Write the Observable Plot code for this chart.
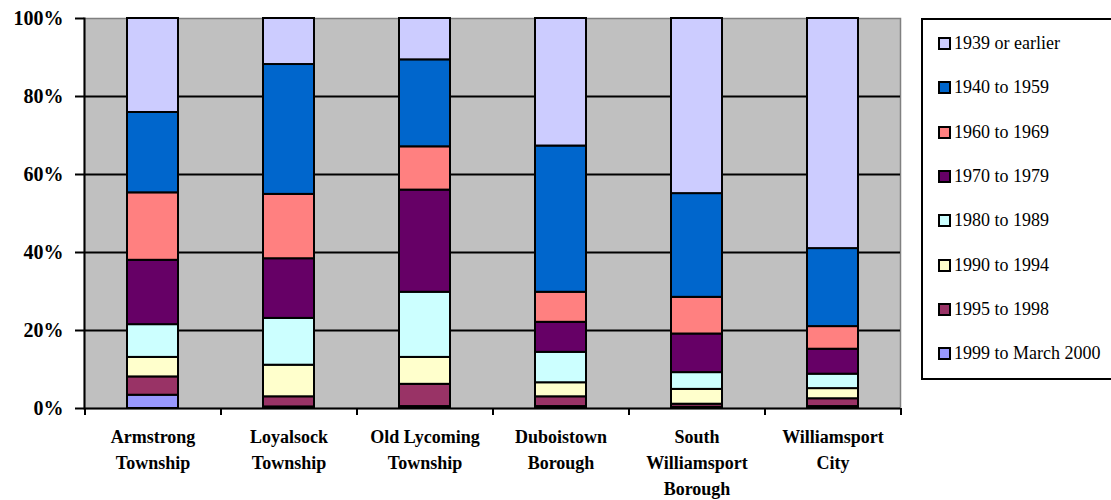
<!DOCTYPE html>
<html>
<head>
<meta charset="utf-8">
<script src="https://cdn.jsdelivr.net/npm/d3@7"></script>
<script src="https://cdn.jsdelivr.net/npm/@observablehq/plot@0.6"></script>
<style>
  html, body { margin: 0; padding: 0; background: #fff; overflow: hidden; }
  #wrap { position: relative; width: 1111px; height: 500px; }
  #legend { position: absolute; left: 921px; top: 18px; width: 200px; height: 362px;
            border: 2px solid #000; box-sizing: border-box; background: #fff;
            font-family: "Liberation Serif", "Times New Roman", serif; font-size: 18px; color: #000; }
  .item { position: absolute; left: 15px; height: 20px; display: flex; align-items: center; white-space: nowrap; }
  .sw { width: 9px; height: 9px; border: 2px solid #000; margin-right: 3px; }
</style>
</head>
<body>
<div id="wrap"><div id="chart"></div><div id="legend"></div></div>
<script>
// Categories (x axis)
const categories = ["Armstrong\nTownship", "Loyalsock\nTownship", "Old Lycoming\nTownship", "Duboistown\nBorough", "South\nWilliamsport\nBorough", "Williamsport\nCity"];
// Series (legend order, top of stack first)
const series = ["1939 or earlier", "1940 to 1959", "1960 to 1969", "1970 to 1979", "1980 to 1989", "1990 to 1994", "1995 to 1998", "1999 to March 2000"];
const colors = ["#CCCCFF", "#0066CC", "#FF8080", "#660066", "#CCFFFF", "#FFFFCC", "#993366", "#9999FF"];
// Percent of housing units by year built, per category
const s1939 = [24.1, 11.8, 10.6, 32.7, 44.9, 59.0];
const s1940 = [20.6, 33.3, 22.3, 37.5, 26.6, 20.0];
const s1960 = [17.3, 16.5, 11.1, 7.7, 9.4, 5.8];
const s1970 = [16.5, 15.3, 26.2, 7.7, 9.9, 6.4];
const s1980 = [8.4, 12.0, 16.7, 7.8, 4.3, 3.7];
const s1990 = [5.0, 8.1, 6.9, 3.6, 3.8, 2.6];
const s1995 = [4.7, 2.6, 5.7, 2.5, 0.8, 2.0];
const s1999 = [3.4, 0.4, 0.5, 0.5, 0.3, 0.5];
const yTicks = [0, 20, 40, 60, 80, 100];
const gridTicks = [20, 40, 60, 80];

const seriesValues = [s1939, s1940, s1960, s1970, s1980, s1990, s1995, s1999];
// stack from bottom (1999) to top (1939)
const data = [];
for (let s = series.length - 1; s >= 0; s--) {
  categories.forEach((c, i) => data.push({cat: c, series: series[s], value: seriesValues[s][i]}));
}

const W = 1111, H = 500, ML = 84, MR = 211, MT = 18, MB = 92;
const step = (W - ML - MR) / categories.length;
const font = '"Liberation Serif", "Times New Roman", serif';

const chart = Plot.plot({
  width: W, height: H,
  marginLeft: ML, marginRight: MR, marginTop: MT, marginBottom: MB,
  style: {fontFamily: font, background: "transparent"},
  x: {domain: categories, paddingInner: 0.625, paddingOuter: 0.3125, axis: null},
  y: {domain: [0, 100], axis: null},
  color: {domain: series, range: colors},
  marks: [
    Plot.frame({fill: "#C0C0C0", stroke: "#808080", strokeWidth: 1.5}),
    Plot.ruleY(gridTicks, {stroke: "#000", strokeWidth: 2}),
    Plot.barY(data, {x: "cat", y: "value", fill: "series", stroke: "#000", strokeWidth: 2}),
    Plot.ruleY([0], {stroke: "#000", strokeWidth: 2}),
    Plot.frame({anchor: "left", stroke: "#000", strokeWidth: 2}),
    Plot.axisY({ticks: yTicks, tickFormat: d => d + "%", tickSize: 9, tickPadding: 12,
      fontSize: 20, fontWeight: "bold", stroke: "#000", strokeWidth: 2, color: "#000", label: null}),
    Plot.axisX({tickSize: 0, tickPadding: 16, fontSize: 18, fontWeight: "bold", lineHeight: 1.45, label: null, color: "#000"}),
    Plot.ruleX(categories, {x: d => d, y: 0, dx: step / 2, insetTop: 0, insetBottom: -7, stroke: "#000", strokeWidth: 2}),
    Plot.ruleX([categories[0]], {x: d => d, y: 0, dx: -step / 2, insetBottom: -7, stroke: "#000", strokeWidth: 2})
  ]
});
document.getElementById("chart").appendChild(chart);

const legend = document.getElementById("legend");
series.forEach((s, i) => {
  const it = document.createElement("div");
  it.className = "item";
  it.style.top = (13.5 + i * 44.3) + "px";
  const sw = document.createElement("div");
  sw.className = "sw";
  sw.style.background = colors[i];
  it.appendChild(sw);
  it.appendChild(document.createTextNode(s));
  legend.appendChild(it);
});
</script>
</body>
</html>
